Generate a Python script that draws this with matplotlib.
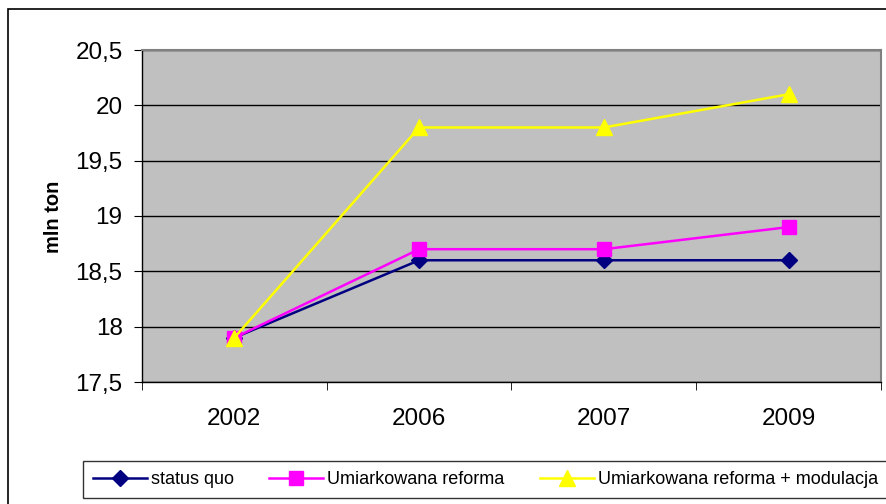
import matplotlib
matplotlib.use("Agg")
import matplotlib.pyplot as plt
from matplotlib.patches import Rectangle
from matplotlib.ticker import FixedLocator

categories = ["2002", "2006", "2007", "2009"]
status_quo = [17.9, 18.6, 18.6, 18.6]
umiarkowana = [17.9, 18.7, 18.7, 18.9]
modulacja = [17.9, 19.8, 19.8, 20.1]
series_names = ["status quo", "Umiarkowana reforma", "Umiarkowana reforma + modulacja"]
yticks = [17.5, 18, 18.5, 19, 19.5, 20, 20.5]
ytick_labels = ["17,5", "18", "18,5", "19", "19,5", "20", "20,5"]

plt.rcParams['font.family'] = ['Liberation Sans', 'DejaVu Sans']

fig = plt.figure(figsize=(8.87, 5.04), dpi=100)
fig.patch.set_facecolor("white")
# outer chart border
fig.patches.append(Rectangle((8/887, -0.1), 1.2, 1 - 9/504 + 0.1, transform=fig.transFigure,
                             fill=False, edgecolor="black", linewidth=1.2, zorder=0))

ax = fig.add_axes([142/887, 1 - 382/504, (881 - 142)/887, (382 - 50)/504])
ax.set_facecolor("#C0C0C0")
x = list(range(len(categories)))

ax.plot(x, status_quo, color="#000080", marker="D", markersize=8.5, linewidth=1.8,
        label=series_names[0], zorder=3)
ax.plot(x, umiarkowana, color="#FF00FF", marker="s", markersize=10.5, linewidth=1.8,
        label=series_names[1], zorder=4)
ax.plot(x, modulacja, color="#FFFF00", marker="^", markersize=11.5, linewidth=1.8,
        label=series_names[2], zorder=5)

ax.set_xlim(-0.5, len(categories) - 0.5)
ax.set_ylim(17.5, 20.5)
ax.set_yticks(yticks)
ax.set_yticklabels(ytick_labels, fontsize=17.5)
ax.set_xticks(x)
ax.set_xticklabels(categories, fontsize=17.5)
ax.tick_params(axis='x', which='major', length=0, pad=19)
ax.xaxis.set_minor_locator(FixedLocator([i - 0.5 for i in range(len(categories) + 1)]))
ax.tick_params(axis='x', which='minor', length=6, direction='out', color='black')
ax.tick_params(axis='y', length=6, direction='out', color='black', pad=8)
ax.grid(axis='y', color='black', linewidth=1.0)
ax.set_axisbelow(True)
for s in ["top", "right"]:
    ax.spines[s].set_color("#808080")
    ax.spines[s].set_linewidth(1.5)
for s in ["left", "bottom"]:
    ax.spines[s].set_color("black")
    ax.spines[s].set_linewidth(1.0)

fig.text(53.5/887, 1 - 217/504, "mln ton", rotation=90, fontsize=14.5, fontweight='bold',
         ha='center', va='center')

leg = fig.legend(loc='upper left', bbox_to_anchor=(83/887, 1 - 461/504), ncol=3,
                 frameon=True, fancybox=False, edgecolor='black',
                 handlelength=3.0, handletextpad=0.22, columnspacing=1.95,
                 borderpad=0.55, borderaxespad=0, markerscale=1.0,
                 prop={'size': 13.0})
leg.get_frame().set_linewidth(1.0)

fig.savefig("out.png", dpi=100)
